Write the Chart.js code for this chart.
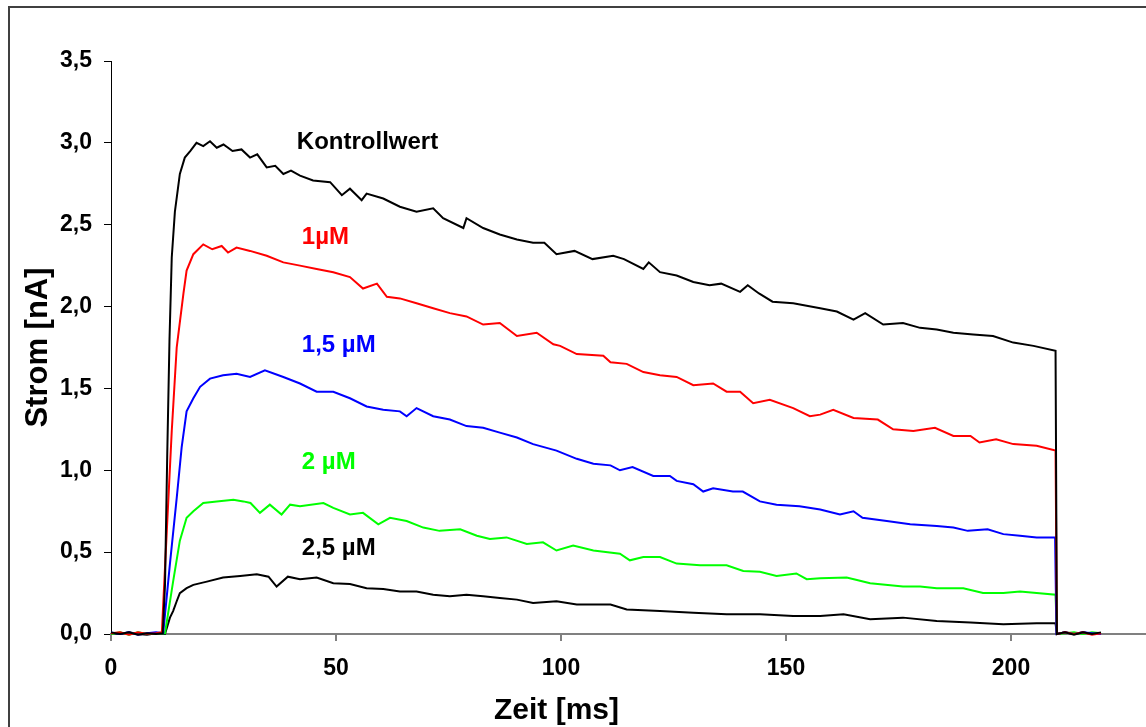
<!DOCTYPE html>
<html>
<head>
<meta charset="utf-8">
<script src="https://cdn.jsdelivr.net/npm/chart.js@4.4.0/dist/chart.umd.min.js"></script>
<style>
  body { margin: 0; background: #fff; }
  canvas { display: block; }
</style>
</head>
<body>
<canvas id="myChart" width="1146" height="727"></canvas>
<script>
// current traces: [time ms, current nA]
const kontrollwert = [
  [0, 0.01], [2, 0], [4, 0.01], [6, -0.005], [8, 0.005], [10, 0], [11.5, 0.005],
  [12, 0.3], [12.5, 1.1], [13, 1.8], [13.5, 2.3], [14.2, 2.58], [15.3, 2.81], [16.4, 2.91],
  [17.6, 2.95], [19, 3.0], [20.5, 2.98], [22, 3.01], [23.5, 2.97], [25, 2.99], [27, 2.95],
  [29, 2.96], [30.9, 2.91], [32.5, 2.93], [34.6, 2.85], [36.5, 2.86], [38.3, 2.81], [40, 2.83],
  [42, 2.8], [44.9, 2.77], [48.7, 2.76], [51.3, 2.68], [53.1, 2.72], [55.7, 2.65], [56.8, 2.69],
  [60.5, 2.66], [64.2, 2.61], [67.9, 2.58], [71.6, 2.6], [73.8, 2.54], [78.3, 2.48], [79, 2.54],
  [82.7, 2.48], [86.4, 2.44], [90.2, 2.41], [93.8, 2.39], [96.3, 2.39], [99, 2.32], [103, 2.34],
  [107, 2.29], [111.6, 2.31], [114, 2.29], [118.3, 2.23], [119.5, 2.27], [122, 2.21], [125.7, 2.19],
  [129.4, 2.15], [133, 2.13], [135.6, 2.14], [139.8, 2.09], [141.5, 2.13], [144, 2.08], [147, 2.03],
  [151.6, 2.02], [157.6, 1.99], [161.3, 1.97], [165, 1.92], [167.6, 1.96], [171.6, 1.89], [176, 1.9],
  [179.8, 1.87], [183.5, 1.86], [187.2, 1.84], [191.6, 1.83], [196, 1.82], [200.5, 1.78], [205, 1.76],
  [209.9, 1.73], [210.2, 0], [212, 0.01], [214, -0.005], [216, 0.01], [218, 0], [220, 0.01]
];
const conc1 = [
  [0, 0.005], [2, 0.01], [4, -0.005], [6, 0.01], [8, 0], [10, 0.005], [11.3, 0.01],
  [12.4, 0.63], [13.5, 1.24], [14.6, 1.75], [16.1, 2.08], [16.8, 2.22], [18.3, 2.32], [20.5, 2.38],
  [22.5, 2.35], [24.6, 2.37], [26, 2.33], [27.9, 2.36], [30.9, 2.34], [34.6, 2.31], [38.3, 2.27],
  [42, 2.25], [45.7, 2.23], [49.4, 2.21], [53.1, 2.18], [56, 2.11], [59.1, 2.14], [61.3, 2.06],
  [64.2, 2.05], [67.9, 2.02], [71.6, 1.99], [75.3, 1.96], [79, 1.94], [82.7, 1.89], [86.4, 1.9],
  [90.2, 1.82], [94.6, 1.84], [98.3, 1.77], [99.8, 1.76], [103.5, 1.71], [109.4, 1.7], [111, 1.66],
  [114.6, 1.65], [118.3, 1.6], [122, 1.58], [125.7, 1.57], [129.4, 1.52], [133.8, 1.53], [136.8, 1.48],
  [139.8, 1.48], [142.7, 1.41], [146.4, 1.43], [151.6, 1.38], [155.3, 1.33], [157.6, 1.34], [160.5, 1.37],
  [165, 1.32], [170.4, 1.31], [173.8, 1.25], [178.3, 1.24], [183.1, 1.26], [187.2, 1.21], [191, 1.21],
  [193, 1.17], [196.7, 1.19], [200.5, 1.16], [205.7, 1.15], [209.9, 1.12], [210.2, 0], [212, 0.01],
  [214, 0], [216, 0.01], [218, -0.005], [220, 0.005]
];
const conc15 = [
  [0, 0.01], [2, 0], [4, 0.01], [6, -0.005], [8, 0.005], [10, 0.01], [11.6, 0.005],
  [13.1, 0.43], [14.6, 0.83], [15.7, 1.14], [16.8, 1.36], [18.3, 1.44], [19.8, 1.51], [22, 1.56],
  [24.9, 1.58], [27.9, 1.59], [30.9, 1.57], [34.2, 1.61], [38.3, 1.57], [42, 1.53], [45.7, 1.48],
  [49.4, 1.48], [53.1, 1.44], [56.8, 1.39], [60.5, 1.37], [64.2, 1.36], [65.7, 1.33], [67.9, 1.38],
  [71.6, 1.33], [75.3, 1.31], [79, 1.27], [82.7, 1.26], [86.4, 1.23], [90.2, 1.2], [93.8, 1.16],
  [99, 1.12], [103.5, 1.07], [107.2, 1.04], [111, 1.03], [113.1, 1.0], [115.9, 1.02], [120.5, 0.965],
  [124.2, 0.965], [125.7, 0.935], [129.4, 0.915], [131.6, 0.87], [133.8, 0.89], [138.2, 0.87],
  [140.4, 0.87], [144.2, 0.81], [147.9, 0.79], [153, 0.78], [157.6, 0.76], [162, 0.73], [165, 0.75],
  [167, 0.71], [172.4, 0.69], [177.6, 0.67], [183.5, 0.66], [187.2, 0.65], [190.4, 0.63], [194.8, 0.64],
  [198.3, 0.61], [202, 0.6], [205.7, 0.59], [209.8, 0.59], [210.1, 0], [212, 0.01], [214, 0],
  [216, 0.01], [218, 0.005], [220, 0]
];
const conc2 = [
  [0, 0], [2, 0.01], [4, -0.005], [6, 0.01], [8, 0], [10, 0.005], [12, 0.005],
  [13.8, 0.32], [15.3, 0.57], [16.8, 0.71], [18.3, 0.75], [20.5, 0.8], [23.5, 0.81], [27.2, 0.82],
  [29.4, 0.81], [31, 0.8], [33.1, 0.74], [35.3, 0.79], [37.9, 0.73], [39.8, 0.79], [42, 0.78],
  [47.2, 0.8], [49.4, 0.77], [53.1, 0.73], [56, 0.74], [59.4, 0.67], [62, 0.71], [65.7, 0.69],
  [69.4, 0.65], [73, 0.63], [77.6, 0.64], [81.3, 0.6], [84.2, 0.58], [87.9, 0.59], [92.4, 0.55],
  [96, 0.56], [99, 0.51], [102.7, 0.54], [107.2, 0.51], [113.1, 0.49], [115.3, 0.45], [118.3, 0.47],
  [122, 0.47], [125.7, 0.43], [130.9, 0.42], [136.8, 0.42], [140.5, 0.385], [144.2, 0.38],
  [147.9, 0.355], [152.3, 0.37], [154.6, 0.335], [157.6, 0.34], [163.5, 0.345], [168.7, 0.31],
  [176, 0.29], [179.8, 0.29], [183.5, 0.28], [189.4, 0.28], [193.8, 0.25], [198.3, 0.25], [202, 0.26],
  [205.7, 0.25], [209.9, 0.24], [210.2, 0], [212, 0.005], [214, 0.01], [216, 0], [218, 0.01], [220, 0.005]
];
const conc25 = [
  [0, 0.005], [2, 0], [4, 0.01], [6, 0], [8, -0.005], [10, 0.005], [12, 0],
  [13.1, 0.1], [13.8, 0.14], [14.6, 0.2], [15.3, 0.25], [16.8, 0.28], [18.3, 0.3], [21.3, 0.32],
  [24.9, 0.345], [28.7, 0.355], [32.4, 0.365], [35, 0.35], [36.8, 0.29], [39.3, 0.35], [42, 0.335],
  [45.7, 0.345], [49.4, 0.31], [53.1, 0.305], [56.8, 0.28], [60.5, 0.275], [64.2, 0.26], [67.9, 0.26],
  [71.6, 0.24], [75.3, 0.23], [79, 0.24], [82.7, 0.23], [86.4, 0.22], [90.2, 0.21], [93.8, 0.19],
  [99, 0.2], [103.5, 0.18], [111, 0.18], [114.6, 0.15], [122, 0.14], [129.4, 0.13], [136.8, 0.12],
  [144.2, 0.12], [151.6, 0.11], [157.6, 0.11], [162.8, 0.12], [168.7, 0.09], [176, 0.1], [183.5, 0.08],
  [191, 0.07], [198.3, 0.06], [205.7, 0.065], [209.9, 0.065], [210.2, 0], [212, 0.01], [214, 0],
  [216, 0.01], [218, 0], [220, 0.005]
];

const seriesNames = ['Kontrollwert', '1µM', '1,5 µM', '2 µM', '2,5 µM'];
const seriesData = [kontrollwert, conc1, conc15, conc2, conc25];
const seriesColors = ['#000000', '#ff0000', '#0000ff', '#00ff00', '#000000'];
// where each trace name sits, in data units [ms, nA]
const labelAnchors = [[41.3, 3.0], [42.4, 2.42], [42.4, 1.76], [42.4, 1.05], [42.4, 0.52]];

const FONT = "'Liberation Sans', Arial, sans-serif";

const frameAndLabels = {
    id: 'frameAndLabels',
    beforeDraw(chart) {
        const ctx = chart.ctx;
        ctx.save();
        ctx.fillStyle = '#fff';
        ctx.fillRect(0, 0, chart.width, chart.height);
        ctx.strokeStyle = '#404040';
        ctx.lineWidth = 2;
        ctx.strokeRect(9, 7, chart.width + 20, chart.height + 20);
        ctx.restore();
    },
    afterDraw(chart) {
        const ctx = chart.ctx;
        const xs = chart.scales.x, ys = chart.scales.y;
        ctx.save();
        ctx.font = 'bold 24px ' + FONT;
        ctx.textAlign = 'left';
        ctx.textBaseline = 'middle';
        seriesNames.forEach((name, i) => {
            ctx.fillStyle = seriesColors[i];
            ctx.fillText(name, xs.getPixelForValue(labelAnchors[i][0]), ys.getPixelForValue(labelAnchors[i][1]));
        });
        ctx.fillStyle = '#000';
        ctx.font = 'bold 30px ' + FONT;
        ctx.textAlign = 'center';
        ctx.fillText('Zeit [ms]', xs.getPixelForValue(99), 711);
        ctx.restore();
    }
};

const ctx = document.getElementById('myChart').getContext('2d');
const chart = new Chart(ctx, {
    type: 'line',
    data: {
        datasets: seriesData.map((d, i) => ({
            label: seriesNames[i],
            data: d.map(p => ({ x: p[0], y: p[1] })),
            borderColor: seriesColors[i],
            borderWidth: 2,
            pointRadius: 0,
            tension: 0,
            fill: false,
            clip: false
        }))
    },
    options: {
        responsive: false,
        animation: false,
        layout: { padding: { top: 61, right: 0, bottom: 0, left: 0 } },
        plugins: {
            legend: { display: false },
            tooltip: { enabled: false }
        },
        scales: {
            x: {
                type: 'linear',
                min: 0,
                max: 230,
                afterBuildTicks: s => { s.ticks = s.ticks.filter(t => t.value % 50 === 0); },
                afterFit: s => { s.height = 93; },
                ticks: {
                    stepSize: 50,
                    color: '#000',
                    padding: 14,
                    maxRotation: 0,
                    font: { family: FONT, size: 23, weight: 'bold' }
                },
                grid: {
                    drawOnChartArea: false,
                    drawTicks: true,
                    tickLength: 7,
                    color: '#808080',
                    lineWidth: 2
                },
                border: { color: '#808080', width: 2 }
            },
            y: {
                min: 0,
                max: 3.5,
                afterFit: s => { s.width = 111; },
                ticks: {
                    stepSize: 0.5,
                    color: '#000',
                    padding: 12,
                    font: { family: FONT, size: 23, weight: 'bold' },
                    callback: v => v.toFixed(1).replace('.', ',')
                },
                grid: {
                    drawOnChartArea: false,
                    drawTicks: true,
                    tickLength: 7,
                    color: '#000'
                },
                border: { color: '#000', width: 1 },
                title: {
                    display: true,
                    text: 'Strom [nA]',
                    color: '#000',
                    padding: { top: 20, bottom: 0 },
                    font: { family: FONT, size: 31, weight: 'bold' }
                }
            }
        }
    },
    plugins: [frameAndLabels]
});
</script>
</body>
</html>
